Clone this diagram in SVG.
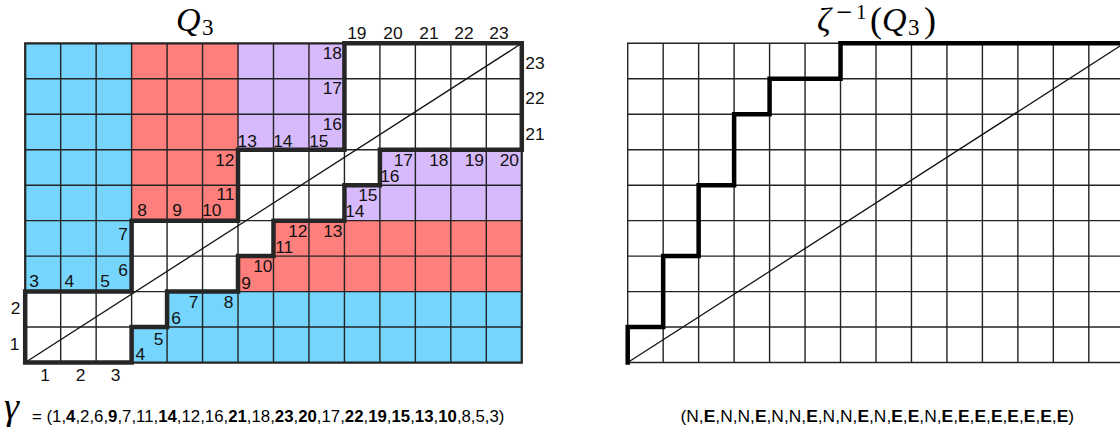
<svg xmlns="http://www.w3.org/2000/svg" width="1120" height="433" viewBox="0 0 1120 433">
<style>
.bg{fill:#ffffff}
.blue{fill:#76D5FD}
.red{fill:#FF7F7C}
.purple{fill:#D7BAFB}
.grid{fill:none;stroke:#232323;stroke-width:1.4;vector-effect:non-scaling-stroke}
.border{fill:none;stroke:#232323;stroke-width:2.2;vector-effect:non-scaling-stroke}
.thick{fill:none;stroke:#262626;stroke-width:4.5;stroke-linecap:square;stroke-linejoin:miter;vector-effect:non-scaling-stroke}
.thickR{fill:none;stroke:#000;stroke-width:4.5;stroke-linecap:square;stroke-linejoin:miter;vector-effect:non-scaling-stroke}
.diag{fill:none;stroke:#111;stroke-width:1.3;vector-effect:non-scaling-stroke}
.lbl{font-family:"Liberation Sans",Arial,Helvetica,sans-serif;font-size:17.4px;fill:#111}
.e{text-anchor:end}
.m{text-anchor:middle}
.math{font-family:"Liberation Serif","Times New Roman",serif;fill:#000}
.minus{font-family:"DejaVu Serif","Liberation Serif",serif}
.it{font-style:italic}
.seq{font-family:"Liberation Sans",Arial,Helvetica,sans-serif;fill:#000}
.b{font-weight:bold}
</style>
<rect class="bg" x="0" y="0" width="1120" height="433"/>

<!-- Left grid Q3 -->
<g id="left-grid" transform="translate(25.2,43.3) scale(35.47)">
  <g id="fills">
    <rect class="blue" x="0" y="0" width="3" height="7"/>
    <rect class="blue" x="4" y="7" width="10" height="1"/>
    <rect class="blue" x="3" y="8" width="11" height="1"/>
    <rect class="red" x="3" y="0" width="3" height="5"/>
    <rect class="red" x="7" y="5" width="7" height="1"/>
    <rect class="red" x="6" y="6" width="8" height="1"/>
    <rect class="purple" x="6" y="0" width="3" height="3"/>
    <rect class="purple" x="10" y="3" width="4" height="1"/>
    <rect class="purple" x="9" y="4" width="5" height="1"/>
  </g>
  <path class="grid" d="M1 0V9M2 0V9M3 0V9M4 0V9M5 0V9M6 0V9M7 0V9M8 0V9M9 0V9M10 0V9M11 0V9M12 0V9M13 0V9M0 1H14M0 2H14M0 3H14M0 4H14M0 5H14M0 6H14M0 7H14M0 8H14"/>
  <rect class="border" x="0" y="0" width="14" height="9"/>
  <g id="connectors-left">
    <path class="diag" d="M0 9L14 0"/>
    <path id="outline-left" class="thick" d="M0 9V7H3V5H6V3H9V0H14V3H10V4H9V5H7V6H6V7H4V8H3V9Z"/>
  </g>
</g>

<g id="left-labels" class="lbl">
  <!-- axes -->
  <text class="m" x="45" y="381">1</text>
  <text class="m" x="80.5" y="381">2</text>
  <text class="m" x="115.5" y="381">3</text>
  <text class="m" x="15.5" y="314">2</text>
  <text class="m" x="14.5" y="350">1</text>
  <text x="347.2" y="39">19</text>
  <text x="383.3" y="39">20</text>
  <text x="419.3" y="39">21</text>
  <text x="454.3" y="39">22</text>
  <text x="489.3" y="39">23</text>
  <text x="525.3" y="69">23</text>
  <text x="525.3" y="104">22</text>
  <text x="525.3" y="140">21</text>
  <!-- top-right labels -->
  <text class="e" x="234.5" y="166">12</text>
  <text class="e" x="234.5" y="200">11</text>
  <text class="e" x="128" y="240">7</text>
  <text class="e" x="128" y="276">6</text>
  <text class="e" x="198.5" y="308">7</text>
  <text class="e" x="233.5" y="308">8</text>
  <text class="e" x="163.5" y="345">5</text>
  <text class="e" x="272.5" y="272">10</text>
  <text class="e" x="342" y="59">18</text>
  <text class="e" x="342" y="94">17</text>
  <text class="e" x="342" y="130">16</text>
  <text class="e" x="413" y="166">17</text>
  <text class="e" x="448.5" y="166">18</text>
  <text class="e" x="484" y="166">19</text>
  <text class="e" x="519" y="166">20</text>
  <text class="e" x="377.5" y="200.5">15</text>
  <text class="e" x="307.5" y="237">12</text>
  <text class="e" x="342.5" y="237">13</text>
  <!-- bottom-left labels -->
  <text x="237.5" y="146.5">13</text>
  <text x="273.2" y="146.5">14</text>
  <text x="309.2" y="146.5">15</text>
  <text x="137.3" y="216">8</text>
  <text x="172.3" y="216">9</text>
  <text x="202.2" y="216">10</text>
  <text x="29.3" y="287">3</text>
  <text x="64.5" y="287">4</text>
  <text x="100.3" y="287">5</text>
  <text x="171.3" y="324">6</text>
  <text x="135.5" y="360">4</text>
  <text x="241.3" y="289">9</text>
  <text x="380.2" y="182">16</text>
  <text x="345.2" y="217">14</text>
  <text x="275.2" y="253">11</text>
</g>

<g id="title-left" class="math">
  <text class="it" x="176" y="31" font-size="34">Q</text>
  <text x="202" y="35" font-size="23">3</text>
</g>

<!-- Right grid zeta^-1(Q3) -->
<g id="right-grid" transform="translate(627.7,43.3) scale(35.47)">
  <path class="grid" d="M1 0V9M2 0V9M3 0V9M4 0V9M5 0V9M6 0V9M7 0V9M8 0V9M9 0V9M10 0V9M11 0V9M12 0V9M13 0V9M0 1H14M0 2H14M0 3H14M0 4H14M0 5H14M0 6H14M0 7H14M0 8H14"/>
  <rect class="grid" x="0" y="0" width="14" height="9"/>
  <g id="connectors-right">
    <path class="diag" d="M0 9L14 0"/>
    <path id="path-right" class="thickR" d="M0 9V8H1V6H2V4H3V2H4V1H6V0H14"/>
  </g>
</g>

<g id="title-right" class="math">
  <text class="it" x="817" y="31" font-size="34">ζ</text>
  <text y="18.5" font-size="21"><tspan class="minus" x="835.5">−</tspan><tspan x="856">1</tspan></text>
  <text x="870" y="32" font-size="36">(</text>
  <text class="it" x="882" y="31" font-size="34">Q</text>
  <text x="908" y="35" font-size="23">3</text>
  <text x="924" y="32" font-size="36">)</text>
</g>

<g id="gamma-sequence">
  <text class="math it" x="4" y="419" font-size="38">γ</text>
  <text class="seq" x="32" y="422" font-size="16.8">= (1,<tspan class="b">4</tspan>,2,6,<tspan class="b">9</tspan>,7,11,<tspan class="b">14</tspan>,12,16,<tspan class="b">21</tspan>,18,<tspan class="b">23</tspan>,<tspan class="b">20</tspan>,17,<tspan class="b">22</tspan>,<tspan class="b">19</tspan>,<tspan class="b">15</tspan>,<tspan class="b">13</tspan>,<tspan class="b">10</tspan>,8,5,3)</text>
</g>

<g id="ne-sequence">
  <text class="seq" x="680.5" y="422" font-size="17.4">(N,<tspan class="b">E</tspan>,N,N,<tspan class="b">E</tspan>,N,N,<tspan class="b">E</tspan>,N,N,<tspan class="b">E</tspan>,N,<tspan class="b">E</tspan>,<tspan class="b">E</tspan>,N,<tspan class="b">E</tspan>,<tspan class="b">E</tspan>,<tspan class="b">E</tspan>,<tspan class="b">E</tspan>,<tspan class="b">E</tspan>,<tspan class="b">E</tspan>,<tspan class="b">E</tspan>,<tspan class="b">E</tspan>)</text>
</g>
</svg>
